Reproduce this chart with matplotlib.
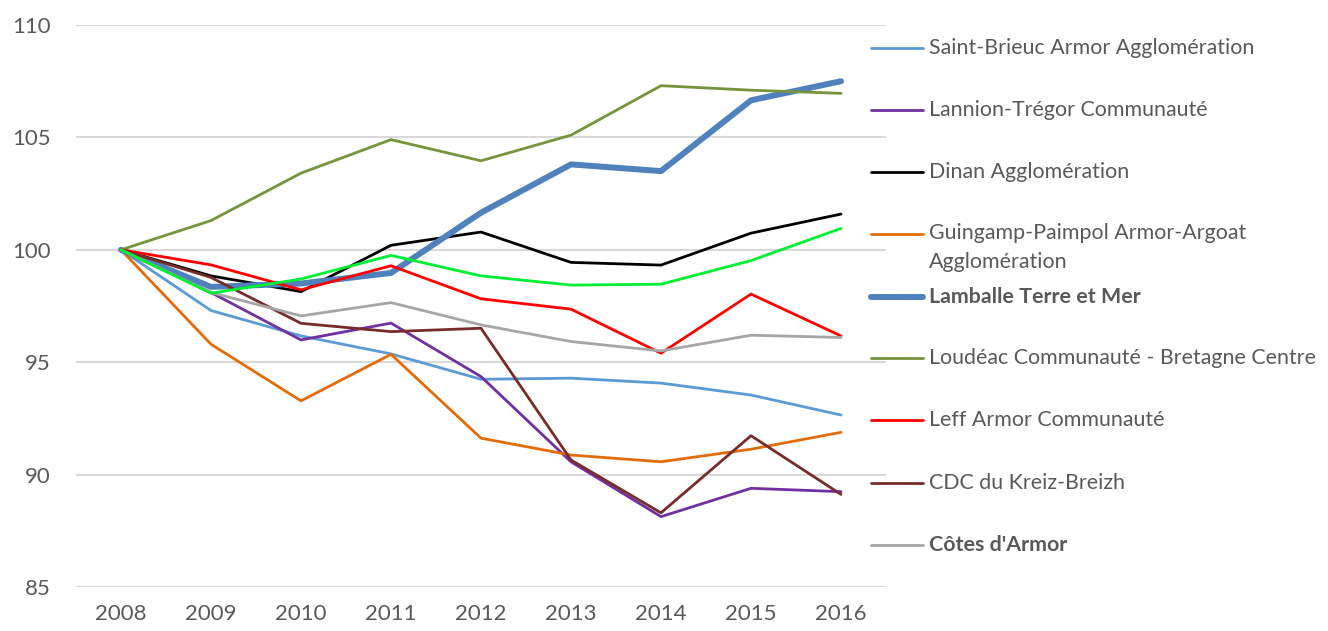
import matplotlib
matplotlib.use('Agg')
import matplotlib.pyplot as plt
from matplotlib.lines import Line2D

# data (index base 100 in 2008)
years = ['2008', '2009', '2010', '2011', '2012', '2013', '2014', '2015', '2016']

saint_brieuc = [100, 97.3, 96.17, 95.37, 94.24, 94.29, 94.07, 93.54, 92.65]
lannion = [100, 98.1, 95.99, 96.74, 94.36, 90.57, 88.13, 89.39, 89.24]
dinan = [100, 98.84, 98.14, 100.2, 100.79, 99.44, 99.32, 100.74, 101.59]
guingamp = [100, 95.8, 93.28, 95.35, 91.62, 90.87, 90.57, 91.13, 91.88]
lamballe = [100, 98.35, 98.5, 98.97, 101.65, 103.8, 103.5, 106.65, 107.5]
loudeac = [100, 101.3, 103.41, 104.9, 103.96, 105.1, 107.3, 107.1, 106.96]
leff = [100, 99.33, 98.22, 99.29, 97.82, 97.36, 95.4, 98.03, 96.17]
kreiz_breizh = [100, 98.77, 96.73, 96.36, 96.51, 90.65, 88.3, 91.73, 89.12]
cotes_armor = [100, 98.1, 97.06, 97.65, 96.66, 95.92, 95.5, 96.2, 96.1]
unlabelled = [100, 98.07, 98.7, 99.75, 98.84, 98.43, 98.47, 99.52, 100.95]

labels = ['Saint-Brieuc Armor Agglomération', 'Lannion-Trégor Communauté',
          'Dinan Agglomération', 'Guingamp-Paimpol Armor-Argoat\nAgglomération',
          'Lamballe Terre et Mer', 'Loudéac Communauté - Bretagne Centre',
          'Leff Armor Communauté', 'CDC du Kreiz-Breizh', "Côtes d'Armor"]
series = [saint_brieuc, lannion, dinan, guingamp, lamballe, loudeac, leff,
          kreiz_breizh, cotes_armor]
colors = ['#5B9BD5', '#7030A0', '#000000', '#E36C0A', '#4F81BD', '#77933C',
          '#FF0000', '#772C2A', '#A6A6A6']
widths = [2.0, 2.0, 2.0, 2.0, 4.3, 2.0, 2.0, 2.0, 2.0]
bold = [False, False, False, False, True, False, False, False, True]

plt.rcParams['font.family'] = ['Lato', 'DejaVu Sans']
txt_color = '#595959'
fs = 16
leg_fs = 15.4

fig = plt.figure(figsize=(13.28, 6.31), dpi=100)
ax = fig.add_axes([76/1328, 44/631, 810/1328, 562/631])

x = list(range(len(years)))
for vals, c, lw in zip(series, colors, widths):
    ax.plot(x, vals, color=c, lw=lw, solid_capstyle='round', solid_joinstyle='round')
ax.plot(x, unlabelled, color='#00EE33', lw=2.0, solid_capstyle='round')

ax.set_xlim(-0.5, len(years) - 0.5)
ax.set_ylim(85, 110)
ax.set_yticks([85, 90, 95, 100, 105, 110])
ax.set_xticks(x)
ax.set_xticklabels(years)
ax.tick_params(length=0, labelsize=fs, labelcolor=txt_color)
ax.tick_params(axis='y', pad=18)
ax.tick_params(axis='x', pad=12)
ax.grid(axis='y', color='#D9D9D9', lw=1.5)
ax.set_axisbelow(True)
for s in ax.spines.values():
    s.set_visible(False)

# legend drawn by hand (Excel layout, uneven because of the wrapped label)
leg_y = [48, 110, 172, 234, 297, 358, 420, 483, 545]
for lab, c, lw, b, py in zip(labels, colors, widths, bold, leg_y):
    yf = 1 - py / 631
    fig.add_artist(Line2D([871/1328, 923/1328], [yf, yf], color=c, lw=lw,
                          solid_capstyle='round'))
    if '\n' in lab:
        fig.text(929/1328, 1 - (py - 11) / 631, lab, va='top', ha='left',
                 fontsize=leg_fs, color=txt_color, linespacing=1.55)
    else:
        fig.text(929/1328, yf, lab, va='center', ha='left', fontsize=leg_fs,
                 color=txt_color, fontweight='bold' if b else 'normal')

fig.savefig('out.png', dpi=100)
